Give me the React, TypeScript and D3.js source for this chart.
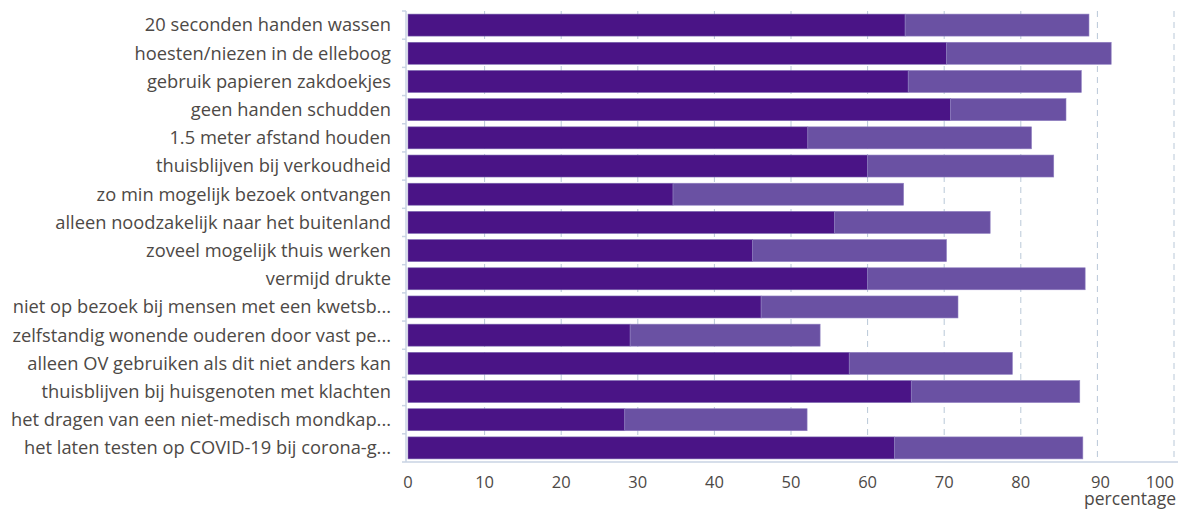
import React from "react";
import * as d3 from "d3";

const categories: string[] = [
  "20 seconden handen wassen",
  "hoesten/niezen in de elleboog",
  "gebruik papieren zakdoekjes",
  "geen handen schudden",
  "1.5 meter afstand houden",
  "thuisblijven bij verkoudheid",
  "zo min mogelijk bezoek ontvangen",
  "alleen noodzakelijk naar het buitenland",
  "zoveel mogelijk thuis werken",
  "vermijd drukte",
  "niet op bezoek bij mensen met een kwetsb...",
  "zelfstandig wonende ouderen door vast pe...",
  "alleen OV gebruiken als dit niet anders kan",
  "thuisblijven bij huisgenoten met klachten",
  "het dragen van een niet-medisch mondkap...",
  "het laten testen op COVID-19 bij corona-g...",
];

const seriesDark: number[] = [64.9, 70.3, 65.3, 70.8, 52.2, 60.0, 34.6, 55.7, 45.0, 60.0, 46.1, 29.0, 57.6, 65.7, 28.3, 63.5];
const seriesLight: number[] = [24.0, 21.5, 22.6, 15.1, 29.2, 24.3, 30.1, 20.3, 25.3, 28.4, 25.7, 24.8, 21.3, 22.0, 23.8, 24.6];

const xTicks: number[] = [0, 10, 20, 30, 40, 50, 60, 70, 80, 90, 100];
const xAxisTitle = "percentage";

const W = 1178;
const H = 512;
const left = 408;
const right = 1174;
const top = 11;
const bottom = 462;

const colorDark = "#4a1486";
const colorLight = "#6a51a3";
const gridColor = "#b9c8d8";
const axisColor = "#c9d3e3";
const textColor = "#4d4946";
const fontFamily = "'Open Sans', 'Noto Sans', sans-serif";

export default function App() {
  const x = d3.scaleLinear().domain([0, 100]).range([left, right]);
  const y = d3
    .scaleBand<string>()
    .domain(categories)
    .range([top, bottom])
    .paddingInner(0.22)
    .paddingOuter(0.11);

  const rows = categories.map((c, i) => ({
    c,
    dark: seriesDark[i],
    light: seriesLight[i],
  }));

  const boundaries = d3.range(categories.length + 1).map((i) => top + i * y.step());

  return (
    <div style={{ position: "fixed", left: 0, top: 0, background: "#fff" }}>
      <svg width={W} height={H} style={{ display: "block" }}>
        <rect x={0} y={0} width={W} height={H} fill="#fff" />
        {/* grid lines */}
        {xTicks.slice(1).map((t) => (
          <line
            key={"g" + t}
            x1={x(t)}
            x2={x(t)}
            y1={top}
            y2={bottom}
            stroke={gridColor}
            strokeWidth={1}
            strokeDasharray="6,5"
          />
        ))}
        {/* bars */}
        {rows.map((r) => (
          <g key={r.c}>
            <rect
              x={x(0)}
              y={y(r.c)!}
              width={x(r.dark) - x(0)}
              height={y.bandwidth()}
              fill={colorDark}
              stroke="#7b68b0"
              strokeWidth={0.6}
            />
            <rect
              x={x(r.dark)}
              y={y(r.c)!}
              width={x(r.dark + r.light) - x(r.dark)}
              height={y.bandwidth()}
              fill={colorLight}
              stroke="#8f7fc0"
              strokeWidth={0.6}
            />
          </g>
        ))}
        {/* y axis */}
        <line x1={left - 2} x2={left - 2} y1={top} y2={bottom} stroke={axisColor} strokeWidth={1.5} />
        {boundaries.map((b, i) => (
          <line key={"yt" + i} x1={left - 6} x2={left - 2} y1={b} y2={b} stroke={axisColor} strokeWidth={1.5} />
        ))}
        {/* x axis */}
        <line x1={left - 2} x2={W} y1={bottom} y2={bottom} stroke={axisColor} strokeWidth={1.5} />
        {/* category labels */}
        {rows.map((r) => (
          <text
            key={"l" + r.c}
            x={391}
            y={y(r.c)! + y.bandwidth() / 2}
            dy="0.35em"
            textAnchor="end"
            fontFamily={fontFamily}
            fontSize={18.3}
            fill={textColor}
          >
            {r.c}
          </text>
        ))}
        {/* x tick labels */}
        {xTicks.map((t) => (
          <text
            key={"xl" + t}
            x={t === 100 ? Math.min(x(t), W - 4) : x(t) + (t === 90 ? 3 : 0)}
            y={488}
            textAnchor={t === 100 ? "end" : "middle"}
            fontFamily={fontFamily}
            fontSize={16.5}
            fill={textColor}
          >
            {t}
          </text>
        ))}
        <text
          x={W - 2}
          y={505}
          textAnchor="end"
          fontFamily={fontFamily}
          fontSize={17.5}
          fill={textColor}
        >
          {xAxisTitle}
        </text>
      </svg>
    </div>
  );
}
